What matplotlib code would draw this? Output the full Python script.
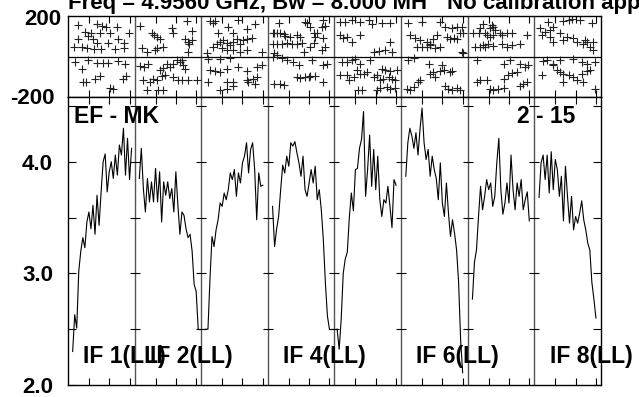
"""
Cross-power spectrum plot (phase + amplitude per IF), one baseline.
Saves out.png.
"""
import numpy as np
import matplotlib
matplotlib.use("Agg")
import matplotlib.pyplot as plt

plt.rcParams['font.family'] = ['Liberation Sans', 'DejaVu Sans']

TITLE_LEFT = "Freq = 4.9560 GHz, Bw = 8.000 MH"
TITLE_RIGHT = "No calibration applied"
BASELINE = "EF - MK"
TIMERANGE = "2 - 15"
IF_LABELS = ["IF 1(LL)", "IF 2(LL)", "", "IF 4(LL)", "", "IF 6(LL)", "", "IF 8(LL)"]

# amplitude per IF, starting at channel first_chan[i]
first_chan = [2, 2, 2, 2, 1, 2, 2, 2]
amp_if1 = [2.30, 2.63, 2.51, 3.02, 3.20, 3.32, 3.23, 3.46, 3.55, 3.40, 3.61, 3.35, 3.70, 3.43, 3.73,
           4.00, 4.07, 3.73, 3.91, 4.00, 3.85, 4.06, 3.88, 4.15, 4.06, 4.30, 3.88, 4.21, 3.84, 4.12]
amp_if2 = [3.85, 4.12, 3.76, 3.55, 3.85, 3.64, 3.82, 3.64, 3.94, 3.64, 3.91, 3.46, 3.82, 3.70, 3.82,
           3.67, 3.76, 3.55, 3.91, 3.61, 3.35, 3.55, 3.52, 3.40, 3.32, 3.35, 3.20, 2.90, 2.84, 2.50]
amp_if3 = [2.50, 2.50, 2.95, 3.33, 3.24, 3.39, 3.48, 3.63, 3.60, 3.72, 3.66, 3.75, 3.90, 3.84, 3.93,
           3.69, 3.90, 3.81, 3.99, 4.05, 4.17, 3.90, 4.11, 4.17, 3.93, 3.48, 3.90, 3.78, 3.79]
amp_if4 = [3.60, 3.24, 3.40, 3.51, 3.75, 3.97, 3.90, 4.05, 3.96, 4.17, 4.14, 4.18, 4.08, 3.99, 3.87,
           4.05, 3.75, 3.69, 3.81, 3.93, 3.81, 3.96, 3.66, 3.75, 3.57, 3.30, 2.92, 2.62, 2.50]
amp_if5 = [2.50, 2.32, 2.59, 3.00, 3.13, 3.19, 3.50, 3.72, 3.56, 3.93, 3.94, 4.12, 4.20, 4.45, 3.69,
           3.93, 4.24, 3.78, 4.11, 3.75, 4.05, 3.66, 3.51, 3.66, 3.63, 3.78, 3.60, 3.41, 3.84, 3.79]
amp_if6 = [3.87, 4.17, 4.30, 4.23, 4.12, 4.26, 4.06, 4.29, 4.48, 4.17, 4.02, 4.11, 3.87, 4.05, 3.93,
           3.85, 3.66, 3.99, 3.63, 3.51, 3.81, 3.54, 3.33, 3.48, 3.36, 3.21, 2.92, 2.40, 2.11]
amp_if7 = [2.77, 3.10, 3.21, 3.51, 3.78, 3.57, 3.69, 3.84, 3.75, 3.81, 3.60, 3.69, 3.99, 4.21, 3.75,
           3.53, 3.63, 3.81, 3.63, 4.06, 3.75, 3.57, 3.81, 3.69, 3.84, 3.57, 3.66, 3.73, 3.47]
amp_if8 = [3.68, 3.99, 4.06, 3.84, 4.06, 3.72, 4.09, 3.75, 4.02, 3.93, 3.69, 3.87, 3.47, 3.96, 3.69,
           3.45, 3.69, 3.39, 3.51, 3.45, 3.54, 3.65, 3.48, 3.39, 3.27, 3.21, 2.92, 2.77, 2.60]
amps = [amp_if1, amp_if2, amp_if3, amp_if4, amp_if5, amp_if6, amp_if7, amp_if8]
joins = [(1, 2), (3, 4)]  # IF pairs whose curves run on across the border

# phase points (channel, degrees) per IF
ph_chan = [
    [4.5, 13.8, 16.3, 18.4, 23.7, 29.9, 8.1, 10.9, 15.5, 20.4, 4.8, 12.2, 13.8, 19.6, 24.5, 27.3, 2.7, 6.4,
     9.2, 12.7, 15.8, 22.9, 27.3, 9.7, 3.1, 6.4, 9.7, 13.8, 16.8, 19.6, 24.5, 27.8, 7.3, 8.6, 13.0, 15.5,
     20.4, 22.0, 26.6, 28.3],
    [2.3, 8.1, 9.2, 10.5, 12.2, 17.9, 18.7, 25.3, 27.8, 24.5, 26.1, 27.8, 26.6, 3.1, 5.6, 9.7, 10.5, 13.8,
     26.1, 2.3, 4.3, 6.4, 12.2, 13.8, 15.5, 17.1, 18.7, 20.4, 22.1, 22.9, 23.7, 24.5, 4.0, 7.3, 8.9, 10.5,
     13.0, 14.6, 18.7, 21.2, 22.9, 26.1, 30.2, 5.6, 11.4, 13.8],
    [4.0, 6.4, 5.6, 8.1, 13.0, 15.5, 17.9, 22.0, 26.1, 2.3, 5.6, 7.3, 8.9, 10.5, 12.2, 13.8, 15.5, 17.1,
     18.7, 20.4, 22.0, 24.5, 9.7, 12.2, 15.5, 18.7, 22.0, 29.4, 3.2, 8.9, 13.8, 4.0, 6.4, 8.9, 12.2, 17.9,
     22.0, 27.0, 29.4, 3.2, 12.2, 15.5, 22.0, 25.3, 27.0, 8.9, 12.2, 15.5, 22.9, 26.1],
    [5.0, 2.0, 2.5, 4.1, 5.8, 7.4, 8.2, 10.7, 14.0, 15.6, 18.1, 18.9, 20.5, 22.2, 23.0, 23.8, 2.0, 4.1, 6.6,
     9.1, 11.5, 14.0, 16.5, 20.5, 22.2, 17.3, 2.5, 2.0, 4.1, 6.6, 9.1, 12.3, 14.8, 21.4, 2.5, 5.8, 7.4,
     14.0, 15.6, 18.1, 19.7, 20.5, 23.0, 27.0, 26.3, 27.9, 27.0, 26.3, 27.9, 27.0, 28.7, 27.0],
    [2.5, 5.0, 8.2, 12.3, 16.5, 18.1, 23.0, 27.1, 2.5, 4.1, 5.8, 8.2, 12.3, 18.9, 21.4, 24.7, 27.1, 28.0,
     3.3, 5.8, 8.2, 9.9, 12.3, 17.3, 23.0, 24.7, 27.1, 30.4, 2.5, 5.8, 6.6, 9.1, 10.7, 12.3, 14.0, 15.6,
     18.9, 20.6, 22.2, 23.8, 26.3, 28.0, 29.6, 11.5, 13.2, 20.6, 22.2, 25.5, 27.1, 29.6],
    [3.3, 9.9, 18.9, 21.4, 24.7, 27.1, 29.6, 4.1, 6.6, 9.1, 12.3, 14.0, 15.6, 17.3, 22.2, 23.8, 25.5, 27.1,
     28.8, 30.0, 7.4, 9.9, 12.3, 14.0, 16.5, 18.9, 29.6, 30.0, 3.3, 5.8, 13.2, 19.7, 23.8, 24.7, 2.5, 4.1,
     5.8, 8.2, 9.1, 14.0, 15.6, 18.9, 20.6, 16.5, 21.4, 23.0, 24.7, 27.1, 28.8],
    [7.4, 11.5, 12.3, 5.8, 10.7, 13.2, 2.5, 5.0, 8.2, 9.1, 10.7, 12.3, 15.6, 16.5, 18.9, 21.4, 3.3, 5.8,
     7.4, 8.2, 9.9, 12.3, 16.5, 18.9, 21.4, 25.5, 28.8, 4.1, 17.3, 20.6, 25.5, 28.0, 29.6, 4.1, 5.8, 9.1,
     17.3, 19.7, 21.4, 23.8, 10.7, 12.3, 14.8, 17.3, 25.5, 27.1, 28.8],
    [6.6, 14.0, 16.5, 18.1, 22.2, 27.9, 2.5, 5.0, 7.4, 9.1, 12.3, 14.0, 15.6, 18.9, 20.6, 23.8, 24.7, 25.5,
     27.1, 28.8, 3.3, 7.4, 9.1, 28.8, 4.1, 5.8, 9.1, 12.3, 18.9, 23.0, 25.5, 29.6, 3.3, 9.1, 10.7, 12.3,
     14.0, 16.5, 18.9, 20.6, 23.0, 25.5, 27.1, 14.0, 23.8, 29.6],
]
ph_deg = [
    [155, 160, 150, 147, 144, 114, 119, 114, 114, 114, 84, 84, 69, 68, 84, 68, 45, 48, 43, 36, 35, 35, 43,
     101, -26, -63, -15, -30, -30, -30, -23, -35, -126, -126, -111, -98, -154, -159, -109, -98],
    [150, 114, 106, 94, 84, 139, 114, 177, 127, 84, 73, 81, 64, 40, 23, 31, 40, 48, 23, -46, -51, -35, -68,
     -55, -35, -51, -38, -18, -26, -15, -43, -60, -117, -126, -109, -117, -98, -93, -101, -117, -117, -117,
     -117, -167, -167, -167],
    [177, 177, 167, 114, 147, 114, 180, 134, 160, 15, 48, 64, 73, 81, 68, 56, 73, 84, 64, 81, 84, 89, 40,
     31, 31, 23, 31, 23, -10, -10, -5, -68, -71, -76, -60, -51, -71, -51, -43, -126, -126, -126, -117,
     -109, -101, -164, -159, -147, -126, -134],
    [167, 114, 114, 117, 114, 111, 101, 98, 106, 94, 172, 164, 147, 117, 98, 114, 64, 64, 64, 68, 64, 61,
     68, 48, 68, 23, 15, -2, 7, -5, -18, -26, -43, -15, -134, -134, -142, -101, -104, -101, -101, -98, -98,
     180, 147, 150, 89, 31, 48, -43, -35, -126],
    [172, 172, 180, 172, 180, 160, 164, 164, 106, 89, 94, 73, 106, 23, 28, 31, 73, 23, -26, -26, -18, -10,
     -35, -15, -60, -68, -71, -68, -93, -93, -117, -101, -68, -84, -84, -76, -101, -93, -117, -109, -101,
     -109, -117, -167, -167, -164, -154, -150, -159, -154],
    [167, 172, 172, 147, 139, 144, 147, 106, 89, 81, 73, 64, 84, 106, 98, 84, 89, 84, 114, 114, 48, 48, 48,
     56, 40, 48, 23, 15, -15, -5, -38, -43, -76, -71, -159, -164, -150, -126, -117, -84, -76, -71, -68,
     -101, -147, -159, -164, -154, -164],
    [160, 155, 147, 139, 139, 131, 114, 114, 114, 106, 98, 106, 114, 106, 114, 114, 48, 48, 56, 48, 64, 51,
     64, 48, 56, 64, 106, -15, -35, -15, -38, -51, -43, -126, -117, -114, -109, -93, -81, -76, -159, -164,
     -159, -154, -147, -134, -126],
    [172, 177, 180, 183, 180, 167, 139, 122, 131, 147, 114, 81, 98, 89, 73, 64, 81, 73, 48, 31, 106, 98, 73,
     73, -21, -15, -35, -18, -10, -26, -35, -26, -93, -43, -65, -76, -84, -93, -101, -117, -84, -71, -65,
     -126, -126, -159],
]

PW = 32.8    # channels per panel, incl. margins
OFF = -0.3   # panel left edge in channel units
W, H = 639, 397


def rect(l, t, r, b):
    return [l / W, 1 - b / H, (r - l) / W, (b - t) / H]


def ftext(x, y, s, **kw):
    fig.text(x / W, 1 - y / H, s, fontweight="bold", **kw)


fig = plt.figure(figsize=(W / 100, H / 100), dpi=100)
ax_ph = fig.add_axes(rect(68, 16, 601, 97))
ax_amp = fig.add_axes(rect(68, 97, 601, 385))

xticks = [i * PW + t for i in range(8) for t in (10, 20, 30)]
borders = [OFF + i * PW for i in range(1, 8)]
for ax in (ax_ph, ax_amp):
    ax.set_xlim(OFF, OFF + 8 * PW)
    ax.set_xticks(xticks)
    ax.tick_params(axis="x", direction="in", top=True, bottom=True, length=5, width=0.8,
                   labelbottom=False, labeltop=False)
    for b in borders:
        ax.axvline(b, color="#555555", lw=1.0)
    for s in ax.spines.values():
        s.set_linewidth(1.0)

# phase row
ax_ph.set_ylim(-200, 200)
ax_ph.set_yticks([])
ax_ph.axhline(0, color="black", lw=0.9)
for i in range(8):
    ax_ph.plot(i * PW + np.array(ph_chan[i]), ph_deg[i], ls="none", marker="+",
               ms=5.5, mew=0.8, color="#222222")

# amplitude row
ytk = [2.0, 2.5, 3.0, 3.5, 4.0, 4.5]
ax_amp.set_ylim(2.0, 4.58)
ax_amp.set_yticks(ytk)
ax_amp.set_yticklabels(["2.0", "", "3.0", "", "4.0", ""], fontsize=16, fontweight="bold")
ax_amp.tick_params(axis="y", direction="in", left=True, right=True, length=6, width=0.8, pad=10.8)
for b in borders:
    ax_amp.plot([b] * len(ytk[1:]), ytk[1:], ls="none", marker="_", ms=7.5, mew=0.8, color="black")

xs = []
for i in range(8):
    x = i * PW + np.arange(first_chan[i], first_chan[i] + len(amps[i]))
    xs.append(x)
    ax_amp.plot(x, amps[i], color="black", lw=0.8)
for a, b in joins:
    ax_amp.plot([xs[a][-1], xs[b][0]], [amps[a][-1], amps[b][0]], color="black", lw=0.8)

# texts
ftext(68, 9, TITLE_LEFT, fontsize=16, va="baseline", ha="left")
ftext(446.7, 9, TITLE_RIGHT, fontsize=16, va="baseline", ha="left")
ftext(61.7, 19.5, "200", fontsize=16, va="center", ha="right")
ftext(55, 98.3, "-200", fontsize=16, va="center", ha="right")
ftext(74, 123, BASELINE, fontsize=16.5, va="baseline", ha="left")
ftext(575, 123, TIMERANGE, fontsize=16.5, va="baseline", ha="right")
for i, lab in enumerate(IF_LABELS):
    if lab:
        ftext(68 + i * 66.6 + 15.4, 363, lab, fontsize=16.5, va="baseline", ha="left")

fig.savefig("out.png", dpi=100)
